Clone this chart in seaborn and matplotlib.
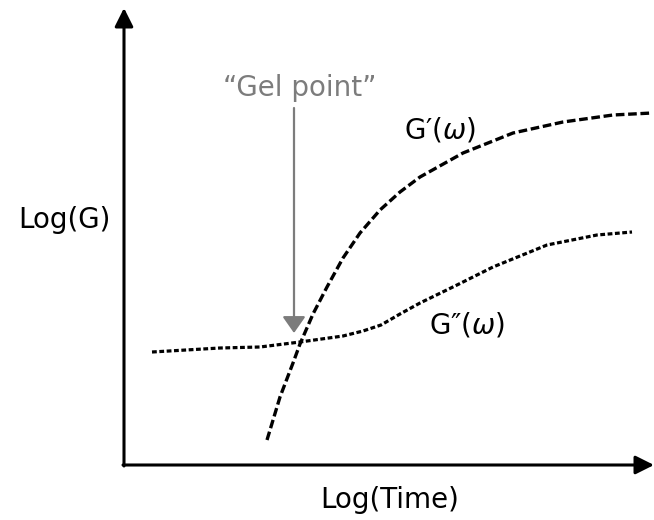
import matplotlib
matplotlib.use("Agg")
import matplotlib.pyplot as plt
import seaborn as sns

# Schematic rheology curves (x = log time, y = log G,
# arbitrary units with the origin at the axis corner)
G1_X = [144, 157, 170, 177, 190, 204, 220, 237, 257, 277, 297, 340, 390, 440, 490, 529]
G1_Y = [25, 68, 102, 121, 151, 178, 207, 232, 255, 273, 288, 312, 332, 343, 350, 352]

G2_X = [29, 97, 137, 177, 220, 240, 258, 277, 297, 334, 370, 424, 474, 509]
G2_Y = [113, 117, 118, 123, 129, 134, 140, 151, 162, 180, 198, 220, 230, 233]

XLIM = (-123, 531)
YLIM = (-55, 465)
FONTSIZE = 20
GEL_COLOR = "#7c7c7c"

sns.set_style("white")
plt.rcParams["font.family"] = ["DejaVu Sans"]
plt.rcParams["mathtext.fontset"] = "dejavusans"
plt.rcParams["text.color"] = "black"

fig = plt.figure(figsize=(6.54, 5.2), dpi=100)
ax = fig.add_axes([0, 0, 1, 1])

sns.lineplot(x=G1_X, y=G1_Y, sort=False, estimator=None, ax=ax,
             color="black", linewidth=2.4, linestyle=(0, (2.6, 1.1)))
sns.lineplot(x=G2_X, y=G2_Y, sort=False, estimator=None, ax=ax,
             color="black", linewidth=2.3, linestyle=(0, (1.5, 0.8)))

# axes drawn as arrows
ax.annotate("", xy=(1, 457), xytext=(1, -1),
            arrowprops=dict(arrowstyle="-|>", color="black", lw=2.2,
                            mutation_scale=28, shrinkA=0, shrinkB=0))
ax.annotate("", xy=(531, 0), xytext=(0, 0),
            arrowprops=dict(arrowstyle="-|>", color="black", lw=2.2,
                            mutation_scale=28, shrinkA=0, shrinkB=0))

# gel point marker
ax.annotate("", xy=(171, 132), xytext=(171, 357),
            arrowprops=dict(arrowstyle="-|>,head_length=0.5,head_width=0.35",
                            color=GEL_COLOR, lw=1.6, mutation_scale=20,
                            shrinkA=0, shrinkB=0))
ax.text(177, 377, "\u201cGel point\u201d", color=GEL_COLOR, fontsize=FONTSIZE,
        ha="center", va="center")

ax.text(317, 335, "G\u2032($\\omega$)", fontsize=FONTSIZE, ha="center", va="center")
ax.text(344, 140, "G\u2033($\\omega$)", fontsize=FONTSIZE, ha="center", va="center")
ax.text(-59, 245, "Log(G)", fontsize=FONTSIZE, ha="center", va="center")
ax.text(267, -35, "Log(Time)", fontsize=FONTSIZE, ha="center", va="center")

ax.set_xlim(*XLIM)
ax.set_ylim(*YLIM)
ax.axis("off")

fig.savefig("out.png", dpi=100, facecolor="white")
